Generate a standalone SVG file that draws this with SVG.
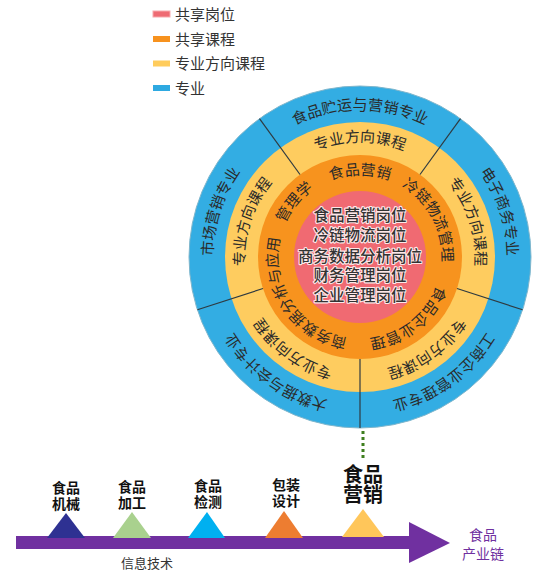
<svg xmlns="http://www.w3.org/2000/svg" width="550" height="576" viewBox="0 0 550 576">
<style>
text{font-family:"Noto Sans CJK SC","Noto Sans",sans-serif;}
.lg{font-size:15px;fill:#333;}
.ring{font-size:15px;fill:#2a2a2a;}
.ctr{font-size:15.5px;font-weight:500;fill:#333;text-anchor:middle;stroke:#fff;stroke-width:2.2px;stroke-opacity:0.85;paint-order:stroke;stroke-linejoin:round;}
.div{stroke:#2f3a40;stroke-width:1.2;}
.lab{font-size:14px;font-weight:bold;fill:#111;text-anchor:middle;}
.big{font-size:20px;font-weight:bold;fill:#111;text-anchor:middle;}
.pur{font-size:14px;fill:#7030A0;text-anchor:middle;}
</style>
<defs>
<path id="pB" d="M360,404 A147,147 0 1 1 360,110 A147,147 0 1 1 360,404"/>
<path id="pY" d="M360,372 A115,115 0 1 1 360,142 A115,115 0 1 1 360,372"/>
<path id="pO" d="M360,339 A82,82 0 1 1 360,175 A82,82 0 1 1 360,339"/>
</defs>
<rect width="550" height="576" fill="#fff"/>

<g id="legend">
<rect x="153" y="11" width="17" height="6" fill="#EE6B73" stroke="#F7A9AD" stroke-width="1"/>
<text class="lg" x="175" y="19.5">共享岗位</text>
<rect x="153" y="36" width="17" height="6" fill="#F7921E"/>
<text class="lg" x="175" y="44.5">共享课程</text>
<rect x="153" y="60.5" width="17" height="6" fill="#FFCC5C"/>
<text class="lg" x="175" y="68.5">专业方向课程</text>
<rect x="153" y="85" width="17" height="6" fill="#2EA9E1"/>
<text class="lg" x="175" y="93.5">专业</text>
</g>

<g id="rings">
<circle cx="360" cy="257" r="171" fill="#33ADE3" stroke="#7fb6cc" stroke-width="1"/>
<circle cx="360" cy="257" r="135" fill="#FECC5F"/>
<circle cx="360" cy="257" r="102" fill="#F7931E"/>
<circle cx="360" cy="257" r="66" fill="#F06A72"/>
</g>

<g id="dividers">
<line class="div" x1="457" y1="288.5" x2="522.6" y2="309.8"/>
<line class="div" x1="360" y1="359" x2="360" y2="428"/>
<line class="div" x1="263" y1="288.5" x2="197.4" y2="309.8"/>
<line class="div" x1="300" y1="174.5" x2="259.5" y2="118.7"/>
<line class="div" x1="420" y1="174.5" x2="460.5" y2="118.7"/>
</g>

<g id="majors">
<text class="ring"><textPath href="#pB" startOffset="50%" text-anchor="middle">食品贮运与营销专业</textPath></text>
<text class="ring"><textPath href="#pB" startOffset="70%" text-anchor="middle">电子商务专业</textPath></text>
<text class="ring"><textPath href="#pB" startOffset="90%" text-anchor="middle">工商企业管理专业</textPath></text>
<text class="ring"><textPath href="#pB" startOffset="10%" text-anchor="middle">大数据与会计专业</textPath></text>
<text class="ring"><textPath href="#pB" startOffset="30%" text-anchor="middle">市场营销专业</textPath></text>
</g>

<g id="direction-courses">
<text class="ring"><textPath href="#pY" startOffset="50%" text-anchor="middle">专业方向课程</textPath></text>
<text class="ring"><textPath href="#pY" startOffset="70%" text-anchor="middle">专业方向课程</textPath></text>
<text class="ring"><textPath href="#pY" startOffset="90%" text-anchor="middle">专业方向课程</textPath></text>
<text class="ring"><textPath href="#pY" startOffset="10%" text-anchor="middle">专业方向课程</textPath></text>
<text class="ring"><textPath href="#pY" startOffset="30%" text-anchor="middle">专业方向课程</textPath></text>
</g>

<g id="shared-courses">
<text class="ring"><textPath href="#pO" startOffset="50%" text-anchor="middle">食品营销</textPath></text>
<text class="ring"><textPath href="#pO" startOffset="67.2%" text-anchor="middle">冷链物流管理</textPath></text>
<text class="ring"><textPath href="#pO" startOffset="89.4%" text-anchor="middle">食品企业管理</textPath></text>
<text class="ring"><textPath href="#pO" startOffset="15.6%" text-anchor="middle">商务数据分析与应用</textPath></text>
<text class="ring"><textPath href="#pO" startOffset="36.1%" text-anchor="middle">管理学</textPath></text>
</g>

<g id="shared-posts">
<text class="ctr" x="360" y="221">食品营销岗位</text>
<text class="ctr" x="360" y="241">冷链物流岗位</text>
<text class="ctr" x="360" y="261.5">商务数据分析岗位</text>
<text class="ctr" x="360" y="281">财务管理岗位</text>
<text class="ctr" x="360" y="301">企业管理岗位</text>
</g>

<g id="connectors">
<line x1="363" y1="431" x2="363" y2="458" stroke="#3F7F1F" stroke-width="3" stroke-dasharray="3 3"/>
</g>

<g id="chain-arrow">
<rect x="16" y="536" width="394" height="13" fill="#7030A0"/>
<polygon points="409,522 450,543 409,563" fill="#7030A0"/>
</g>

<g id="stage-machinery">
<polygon points="47,538 66,513 85,538" fill="#2E3192"/>
<text class="lab" x="66" y="493">食品</text>
<text class="lab" x="66" y="508.5">机械</text>
</g>
<g id="stage-processing">
<polygon points="113,538 132,512 151,538" fill="#A9D18E"/>
<text class="lab" x="132" y="492">食品</text>
<text class="lab" x="132" y="508">加工</text>
</g>
<g id="stage-testing">
<polygon points="188,538 207,512 225,538" fill="#00B0F0"/>
<text class="lab" x="208" y="491">食品</text>
<text class="lab" x="208" y="506.5">检测</text>
</g>
<g id="stage-packaging">
<polygon points="265,538 284,511 303,538" fill="#ED7D31"/>
<text class="lab" x="286" y="490">包装</text>
<text class="lab" x="286" y="506">设计</text>
</g>
<g id="stage-marketing">
<polygon points="342,537 363,509 384,537" fill="#FFC65A"/>
<text class="big" x="363" y="482">食品</text>
<text class="big" x="363" y="502">营销</text>
</g>

<g id="chain-label">
<text class="pur" x="483" y="540">食品</text>
<text class="pur" x="483" y="559">产业链</text>
</g>
<g id="it-label">
<text x="147" y="567.5" font-size="13" fill="#333" text-anchor="middle">信息技术</text>
</g>
</svg>
